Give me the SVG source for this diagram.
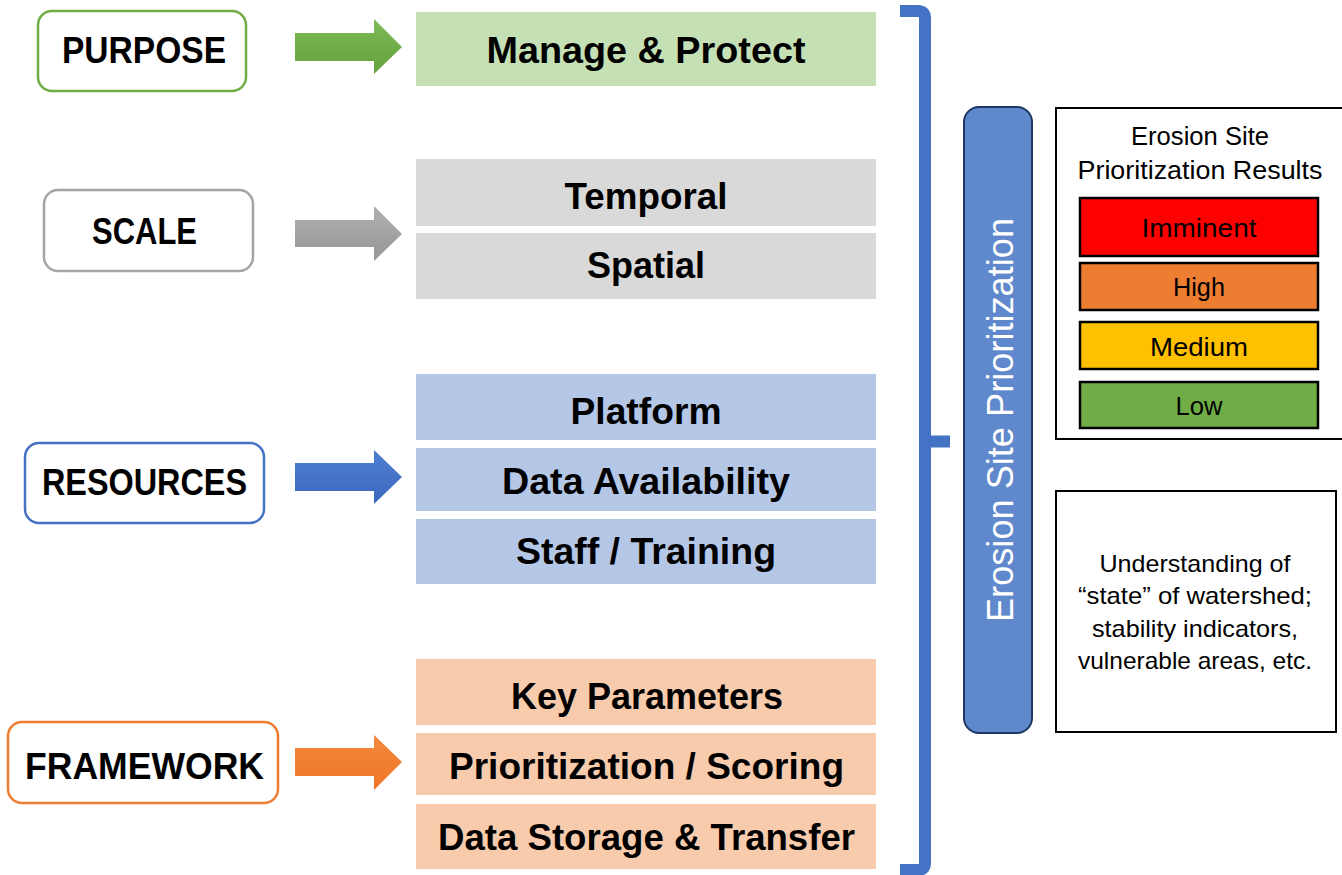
<svg xmlns="http://www.w3.org/2000/svg" width="1342" height="875" viewBox="0 0 1342 875">
<defs>
<style>
.lbl{font-family:"Liberation Sans",Arial,sans-serif;font-weight:bold;font-size:36px;fill:#000;text-anchor:middle}
.reg{font-family:"Liberation Sans",Arial,sans-serif;font-size:25px;fill:#000;text-anchor:middle}
.und{font-family:"Liberation Sans",Arial,sans-serif;font-size:24px;fill:#000;text-anchor:middle}
.cat{fill:#fff;stroke-width:2.5}
.bar{stroke:#000;stroke-width:2.5}
</style>
<linearGradient id="gG" x1="0" y1="0" x2="0" y2="1"><stop offset="0" stop-color="#7DB955"/><stop offset="1" stop-color="#65A23D"/></linearGradient>
<linearGradient id="gS" x1="0" y1="0" x2="0" y2="1"><stop offset="0" stop-color="#B0B0B0"/><stop offset="1" stop-color="#969696"/></linearGradient>
<linearGradient id="gB" x1="0" y1="0" x2="0" y2="1"><stop offset="0" stop-color="#4F7FD0"/><stop offset="1" stop-color="#3A68C0"/></linearGradient>
<linearGradient id="gO" x1="0" y1="0" x2="0" y2="1"><stop offset="0" stop-color="#F4893E"/><stop offset="1" stop-color="#EE7624"/></linearGradient>
</defs>
<rect width="1342" height="875" fill="#fff"/>

<g id="purpose">
<rect class="cat" x="38" y="11" width="208" height="80" rx="14" stroke="#70AD47"/>
<text class="lbl" x="144" y="63" textLength="164" lengthAdjust="spacingAndGlyphs">PURPOSE</text>
</g>
<g id="scale">
<rect class="cat" x="44" y="190" width="209" height="81" rx="14" stroke="#A5A5A5"/>
<text class="lbl" x="144.5" y="244" textLength="105" lengthAdjust="spacingAndGlyphs">SCALE</text>
</g>
<g id="resources">
<rect class="cat" x="25" y="443" width="239" height="80" rx="14" stroke="#4472C4"/>
<text class="lbl" x="144.5" y="495" textLength="205" lengthAdjust="spacingAndGlyphs">RESOURCES</text>
</g>
<g id="framework">
<rect class="cat" x="8" y="722" width="270" height="81" rx="14" stroke="#ED7D31"/>
<text class="lbl" x="144.5" y="779" textLength="239" lengthAdjust="spacingAndGlyphs">FRAMEWORK</text>
</g>

<g id="manage">
<rect x="416" y="12" width="460" height="74" fill="#C5E0B4"/>
<text class="lbl" x="646" y="63" textLength="319" lengthAdjust="spacingAndGlyphs">Manage &amp; Protect</text>
</g>
<g id="temporal">
<rect x="416" y="159" width="460" height="67" fill="#D9D9D9"/>
<text class="lbl" x="646" y="209" textLength="163" lengthAdjust="spacingAndGlyphs">Temporal</text>
</g>
<g id="spatial">
<rect x="416" y="233" width="460" height="66" fill="#D9D9D9"/>
<text class="lbl" x="646" y="278" textLength="118" lengthAdjust="spacingAndGlyphs">Spatial</text>
</g>
<g id="platform">
<rect x="416" y="374" width="460" height="66" fill="#B4C7E7"/>
<text class="lbl" x="646" y="424" textLength="151" lengthAdjust="spacingAndGlyphs">Platform</text>
</g>
<g id="data-availability">
<rect x="416" y="448" width="460" height="63" fill="#B4C7E7"/>
<text class="lbl" x="646" y="494" textLength="288" lengthAdjust="spacingAndGlyphs">Data Availability</text>
</g>
<g id="staff-training">
<rect x="416" y="519" width="460" height="65" fill="#B4C7E7"/>
<text class="lbl" x="646" y="564" textLength="260" lengthAdjust="spacingAndGlyphs">Staff / Training</text>
</g>
<g id="key-parameters">
<rect x="416" y="659" width="460" height="66" fill="#F8CBAD"/>
<text class="lbl" x="647" y="709" textLength="272" lengthAdjust="spacingAndGlyphs">Key Parameters</text>
</g>
<g id="prioritization-scoring">
<rect x="416" y="733" width="460" height="62" fill="#F8CBAD"/>
<text class="lbl" x="646.5" y="779" textLength="395" lengthAdjust="spacingAndGlyphs">Prioritization / Scoring</text>
</g>
<g id="data-storage">
<rect x="416" y="804" width="460" height="65" fill="#F8CBAD"/>
<text class="lbl" x="646.5" y="850" textLength="417" lengthAdjust="spacingAndGlyphs">Data Storage &amp; Transfer</text>
</g>

<g id="esp-bar">
<rect x="964" y="107" width="68" height="626" rx="15" fill="#6088CC" stroke="#203864" stroke-width="2"/>
<text transform="translate(1013,420) rotate(-90)" x="0" y="0" style="font-family:'Liberation Sans',Arial,sans-serif;font-size:36px;fill:#fff;text-anchor:middle" textLength="404" lengthAdjust="spacingAndGlyphs">Erosion Site Prioritization</text>
</g>

<g id="results">
<rect x="1056" y="108" width="290" height="331" fill="#fff" stroke="#000" stroke-width="2"/>
<text class="reg" x="1200" y="145" textLength="138" lengthAdjust="spacingAndGlyphs">Erosion Site</text>
<text class="reg" x="1200" y="179" textLength="245" lengthAdjust="spacingAndGlyphs">Prioritization Results</text>
<g id="imminent"><rect class="bar" x="1080" y="198" width="238" height="58" fill="#FF0000"/><text class="reg" x="1199" y="237" textLength="115" lengthAdjust="spacingAndGlyphs">Imminent</text></g>
<g id="high"><rect class="bar" x="1080" y="263" width="238" height="47" fill="#ED7D31"/><text class="reg" x="1199" y="296" textLength="52" lengthAdjust="spacingAndGlyphs">High</text></g>
<g id="medium"><rect class="bar" x="1080" y="322" width="238" height="47" fill="#FFC000"/><text class="reg" x="1199" y="356" textLength="98" lengthAdjust="spacingAndGlyphs">Medium</text></g>
<g id="low"><rect class="bar" x="1080" y="382" width="238" height="46" fill="#70AD47"/><text class="reg" x="1199" y="415" textLength="47" lengthAdjust="spacingAndGlyphs">Low</text></g>
</g>

<g id="understanding">
<rect x="1056" y="491" width="280" height="241" fill="#fff" stroke="#000" stroke-width="2"/>
<text class="und" x="1195" y="572" textLength="191" lengthAdjust="spacingAndGlyphs">Understanding of</text>
<text class="und" x="1195" y="604" textLength="234" lengthAdjust="spacingAndGlyphs">“state” of watershed;</text>
<text class="und" x="1195" y="637" textLength="206" lengthAdjust="spacingAndGlyphs">stability indicators,</text>
<text class="und" x="1195" y="669" textLength="234" lengthAdjust="spacingAndGlyphs">vulnerable areas, etc.</text>
</g>

<g id="connectors">
<polygon points="295,33 374,33 374,19 402,47 374,74 374,61 295,61" fill="url(#gG)"/>
<polygon points="295,220 374,220 374,206 402,234 374,261 374,247 295,247" fill="url(#gS)"/>
<polygon points="295,463 374,463 374,450 402,477 374,504 374,491 295,491" fill="url(#gB)"/>
<polygon points="295,748 374,748 374,735 402,762 374,790 374,776 295,776" fill="url(#gO)"/>
<path d="M900,11 H918 Q925,11 925,18 V863 Q925,870 918,870 H900 M925,441.5 H950" fill="none" stroke="#4472C4" stroke-width="12"/>
</g>
</svg>
